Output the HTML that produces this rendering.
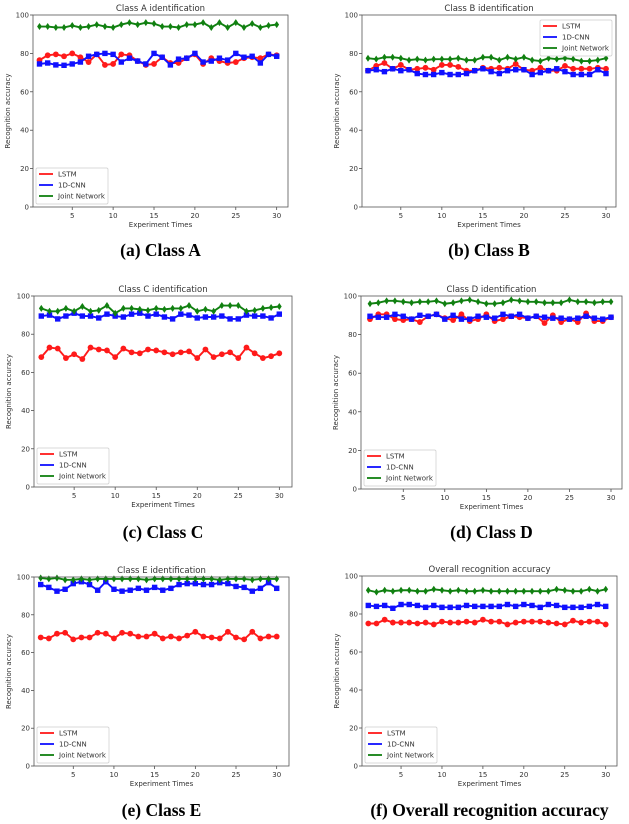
<!DOCTYPE html>
<html><head><meta charset="utf-8">
<style>
html,body{margin:0;padding:0;background:#fff;}
svg{display:block;}
text{font-family:"DejaVu Sans","Liberation Sans",sans-serif;fill:#333;}
.cap{font-family:"Liberation Serif",serif;font-weight:bold;fill:#000;font-size:17.5px;}
</style></head>
<body>
<svg id="fig" width="629" height="824" viewBox="0 0 629 824"></svg>
<script>
const experiments = Array.from({length:30},(_,i)=>i+1);
const xTicks = [5,10,15,20,25,30];
const yTicks = [0,20,40,60,80,100];
const seriesNames = ["LSTM","1D-CNN","Joint Network"];

const aLSTM=[76.5,79,79.5,78.5,80,78,75.5,79.5,74,74.5,79.5,79,76,74,74.5,78,75,75,77.5,79.5,74.5,77.5,76,75,75.5,77.5,78,77.5,79.5,79];
const aCNN=[74.5,75,74,73.8,74.5,75.5,78.5,79.5,80,79.5,75.5,77.5,76,74.5,80,78,74,77,77.5,80,75.5,76,77.5,76.5,80,78,78.5,75,79.5,78.5];
const aJoint=[94,94,93.5,93.5,94.5,93.5,94,95,94,93.5,95,96,95,96,95.5,94,94,93.5,95,95,96,93.5,96,93.5,96,93.5,95.5,93.5,94.5,95];

const bLSTM=[71,73.5,75,72,74,71.5,72,72.5,71.5,74,74,73,71,71,72.5,72,72.5,72,74.5,71.5,71,72.5,71,71,73.5,72,72,72,72.5,72];
const bCNN=[71,71.5,70.5,72,71,71.5,69.5,69,69,70,69,69,69.5,71,72,70.5,69.5,71,71.5,71.5,69,70,71,72,70.5,69,69,69,71.5,69.5];
const bJoint=[77.5,77,78,78,77.5,76.5,77,76.5,77,77,77,77.5,76.5,76.5,78,78,76.5,78,77,78,76.5,76,77.5,77,77.5,77,76,76,76.5,77.5];

const cLSTM=[68,73,72.5,67.5,69.5,67,73,72,71.5,68,72.5,70.5,70,72,71.5,70.5,69.5,70.5,71,67.5,72,68,69.5,70.5,67.5,73,70,67.5,68.5,70];
const cCNN=[89.5,90,88,89.5,91,89.5,89.5,88.5,90.5,89.5,89,90.5,91,89.5,90.5,89,88,90.5,90,88.5,89,89,89.5,88,88,90,89.5,89.5,88.5,90.5];
const cJoint=[93.5,92,92,93.5,92,94.5,92,92.5,95,91,93.5,93.5,93,92.5,93.5,93,93.5,93.5,95,92,93,92,95,95,95,92,92.5,93.5,94,94.5];

const dLSTM=[88,90.5,90.5,88,87.5,88,86.5,89.5,90.5,88.5,87.5,90.5,87,88,90.5,87,88,89.5,89,88.5,89.5,86,90,86.5,88,86.5,91,87,87,89];
const dCNN=[89.5,89,89,90.5,89.5,88,90,89.5,90.5,88,90,88,88,89.5,89,88.5,90.5,89.5,90.5,88.5,89.5,89,88.5,88.5,88,88.5,89.5,88.5,88,89];
const dJoint=[96,96.5,97.5,97.5,97,96.5,97,97,97.5,96,96.5,97.5,98,97,96,96,96.5,98,97.5,97,97,96.5,96.5,96.5,98,97,97,96.5,97,97];

const eLSTM=[68,67.5,70,70.5,67,68,68,70.5,70,67.5,70.5,70,68.5,68.5,70,67.5,68.5,67.5,69,71,68.5,68,67.5,71,68,67,71,67.5,68.5,68.5];
const eCNN=[96,94.5,92.5,93.5,96.5,97.5,96,93,97.5,93.5,92.5,93,94,93,94.5,93,94,96,96.5,96.5,96,96,97,96.5,95,94.5,92.5,94,97,94];
const eJoint=[99.5,99,99.5,98.5,98.5,99,98.5,99,99,99,99,99,99,98.5,99,99,99,99,99,99,99,99,98.5,99,99,99,98.5,99,99,99];

const fLSTM=[75,75,77,75.5,75.5,75.5,75,75.5,74.5,76,75.5,75.5,76,75.5,77,76,76,74.5,75.5,76,76,76,75.5,75,74.5,76.5,75.5,76,76,74.5];
const fCNN=[84.5,84,84.5,83,85,85,84.5,83.5,84.5,83.5,83.5,83.5,84.5,84,84,84,84,85,84,85,84.5,83.5,85,84.5,83.5,83.5,83.5,84,85,84];
const fJoint=[92.5,91.5,92.5,92,92.5,92.5,92,92,93,92.5,92,92.5,92,92,92.5,92,92,92,92,92,92,92,92,93,92.5,92,92,93,92,93];

const panels=[
 {id:"a",title:"Class A identification",cap:"(a) Class A",L:33,R:288,T:15,B:207,x1:39.5,x30:276.7,capY:256,leg:"ll",data:[aLSTM,aCNN,aJoint]},
 {id:"b",title:"Class B identification",cap:"(b) Class B",L:362,R:616,T:15,B:207,x1:368,x30:606,capY:256,leg:"ur",data:[bLSTM,bCNN,bJoint]},
 {id:"c",title:"Class C identification",cap:"(c) Class C",L:34,R:292,T:296,B:487,x1:41.3,x30:279.3,capY:538,leg:"ll",data:[cLSTM,cCNN,cJoint]},
 {id:"d",title:"Class D identification",cap:"(d) Class D",L:361,R:622,T:296,B:489,x1:370,x30:611,capY:538,leg:"ll",data:[dLSTM,dCNN,dJoint]},
 {id:"e",title:"Class E identification",cap:"(e) Class E",L:34,R:289,T:577,B:766,x1:40.7,x30:276.7,capY:816,leg:"ll",data:[eLSTM,eCNN,eJoint]},
 {id:"f",title:"Overall recognition accuracy",cap:"(f) Overall recognition accuracy",L:362,R:617,T:576,B:766,x1:368.3,x30:605.7,capY:816,leg:"ll",data:[fLSTM,fCNN,fJoint]}
];
const colors=["#ff1a1a","#1010ff","#108010"];
const NS="http://www.w3.org/2000/svg";
const svg=document.getElementById("fig");
function mk(tag,attrs,parent){const e=document.createElementNS(NS,tag);for(const k in attrs)e.setAttribute(k,attrs[k]);(parent||svg).appendChild(e);return e;}

panels.forEach(p=>{
  const g=mk("g",{});
  
  
  const xs=v=>p.x1+(v-1)*(p.x30-p.x1)/29;
  const ys=v=>p.B-(v/100)*(p.B-p.T);
  const cx=(p.L+p.R)/2;
  const t=mk("text",{x:cx,y:p.T-4,"text-anchor":"middle","font-size":"8.5"},g);t.textContent=p.title;
  
  
  yTicks.forEach(v=>{
    mk("line",{x1:p.L-3,x2:p.L,y1:ys(v),y2:ys(v),stroke:"#333","stroke-width":0.7},g);
    const tt=mk("text",{x:p.L-4,y:ys(v)+2.5,"text-anchor":"end","font-size":"7"},g);tt.textContent=v;
    
    
  });
  xTicks.forEach(v=>{
    mk("line",{x1:xs(v),x2:xs(v),y1:p.B,y2:p.B+3,stroke:"#333","stroke-width":0.7},g);
    const tt=mk("text",{x:xs(v),y:p.B+11,"text-anchor":"middle","font-size":"7"},g);tt.textContent=v;
    
    
  });
  const xl=mk("text",{x:cx,y:p.B+20,"text-anchor":"middle","font-size":"7"},g);xl.textContent="Experiment Times";
  
  
  const yx=p.L-23, yy=(p.T+p.B)/2;
  const yl=mk("text",{x:yx,y:yy,"text-anchor":"middle","font-size":"7",transform:`rotate(-90 ${yx} ${yy})`},g);yl.textContent="Recognition accuracy";
  
  
  p.data.forEach((arr,si)=>{
    const pts=arr.map((v,i)=>xs(experiments[i])+","+ys(v)).join(" ");
    const pl=mk("polyline",{points:pts,fill:"none",stroke:colors[si],"stroke-width":1.9},g);
    
    
    arr.forEach((v,i)=>{
      const x=xs(experiments[i]),y=ys(v);let m;
      if(si===0)m=mk("circle",{cx:x,cy:y,r:2.9,fill:colors[0]},g);
      else if(si===1)m=mk("rect",{x:x-2.7,y:y-2.7,width:5.4,height:5.4,fill:colors[1]},g);
      else m=mk("polygon",{points:`${x},${y-3.5} ${x+2.4},${y} ${x},${y+3.5} ${x-2.4},${y}`,fill:colors[2]},g);
      
      
    });
  });
  const fr=mk("rect",{x:p.L,y:p.T,width:p.R-p.L,height:p.B-p.T,fill:"none",stroke:"#555","stroke-width":0.8},g);
  
  
  const lw=72,lh=36;
  const lx=p.leg==="ur"?p.R-lw-4:p.L+3, ly=p.leg==="ur"?p.T+5:p.B-lh-3;
  const lg=mk("g",{},g);
  
  
  mk("rect",{x:lx,y:ly,width:lw,height:lh,fill:"#fff",stroke:"#ccc","stroke-width":0.7,rx:1.5},lg);
  seriesNames.forEach((n,si)=>{
    const yy2=ly+6+si*11;
    mk("line",{x1:lx+3,x2:lx+17,y1:yy2,y2:yy2,stroke:colors[si],"stroke-width":1.8},lg);
    const lt=mk("text",{x:lx+22,y:yy2+2.5,"font-size":"7"},lg);lt.textContent=n;
    
    
  });
  const c=mk("text",{x:cx,y:p.capY,"text-anchor":"middle",class:"cap"},svg);c.textContent=p.cap;
  
  
});
</script>
</body></html>
